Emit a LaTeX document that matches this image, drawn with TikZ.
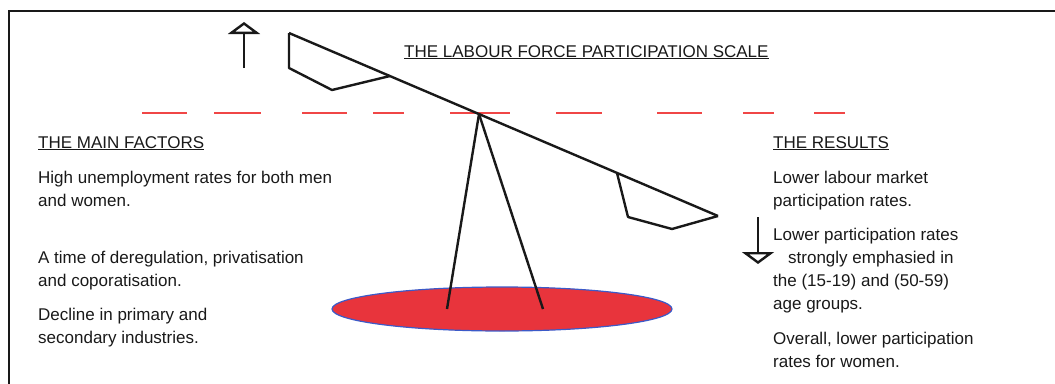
\documentclass[tikz,border=0pt]{standalone}
\usepackage{fontspec}
\setmainfont{Liberation Sans}
\usetikzlibrary{arrows.meta,shapes.geometric}
\definecolor{ink}{RGB}{25,25,25}
\definecolor{dashred}{RGB}{240,70,70}
\definecolor{standred}{RGB}{232,52,60}
\definecolor{rimblue}{RGB}{60,90,200}

\begin{document}
\begin{tikzpicture}[
        x=1pt, y=-1pt,
        txt/.style={anchor=base west, inner sep=0pt, align=left, text=ink, font=\fontsize{17}{23}\selectfont},
        beam/.style={draw=ink, line width=2.4pt, line join=round},
        pointer/.style={draw=ink, line width=2.4pt, -{Triangle[open, width=32pt, length=12pt, line width=2.4pt]}},
        level/.style={draw=dashred, line width=2.2pt}
    ]
        \useasboundingbox (0,0) rectangle (1055,383);
        \clip (0,0) rectangle (1055,383);
        \draw [ink, line width=2.6pt] (9,11) rectangle (1080,400);

        % balance level
        \foreach \a/\b in {142/187, 214/261, 302/347, 373/404, 450/510, 556/602, 657/702, 743/774, 814/845}
            \draw [level] (\a,113) -- (\b,113);

        % stand
        \node [ellipse, draw=rimblue, line width=1.2pt, fill=standred, minimum width=340pt, minimum height=44pt, inner sep=0pt] (stand) at (502,309) {};
        \coordinate (pivot) at (479,114);
        \coordinate (footl) at (447,309);
        \coordinate (footr) at (543,309);
        \path [beam] (pivot) -- (footl);
        \path [beam] (pivot) -- (footr);

        % beam and pans
        \coordinate (beamL) at (289,33);
        \coordinate (beamR) at (718,216);
        \path [beam] (beamL) -- (beamR);
        \path [beam] (beamL) -- (289,68) -- (332,90) -- (390,76);
        \path [beam] (617,173) -- (628,217) -- (672,229) -- (beamR);

        % up / down pointers
        \coordinate (upfrom) at (244,68);
        \coordinate (upto) at (244,22);
        \coordinate (downfrom) at (758,217);
        \coordinate (downto) at (758,264);
        \path [pointer] (upfrom) -- (upto);
        \path [pointer] (downfrom) -- (downto);

        % texts (placed at the baseline of their last line)
        \node [txt] (title) at (404,57) {\underline{THE LABOUR FORCE PARTICIPATION SCALE}};

        \node [txt] (factors) at (38,148) {\underline{THE MAIN FACTORS}};
        \node [txt] (f1) at (38,206) {High unemployment rates for both men\\and women.};
        \node [txt] (f2) at (38,286) {A time of deregulation, privatisation\\and coporatisation.};
        \node [txt] (f3) at (38,343) {Decline in primary and\\secondary industries.};

        \node [txt] (results) at (773,148) {\underline{THE RESULTS}};
        \node [txt] (r1) at (773,206) {Lower labour market\\participation rates.};
        \node [txt] (r2) at (773,309) {Lower participation rates\\\hspace*{15pt}strongly emphasied in\\the (15-19) and (50-59)\\age groups.};
        \node [txt] (r3) at (773,367) {Overall, lower participation\\rates for women.};
    \end{tikzpicture}
\end{document}
